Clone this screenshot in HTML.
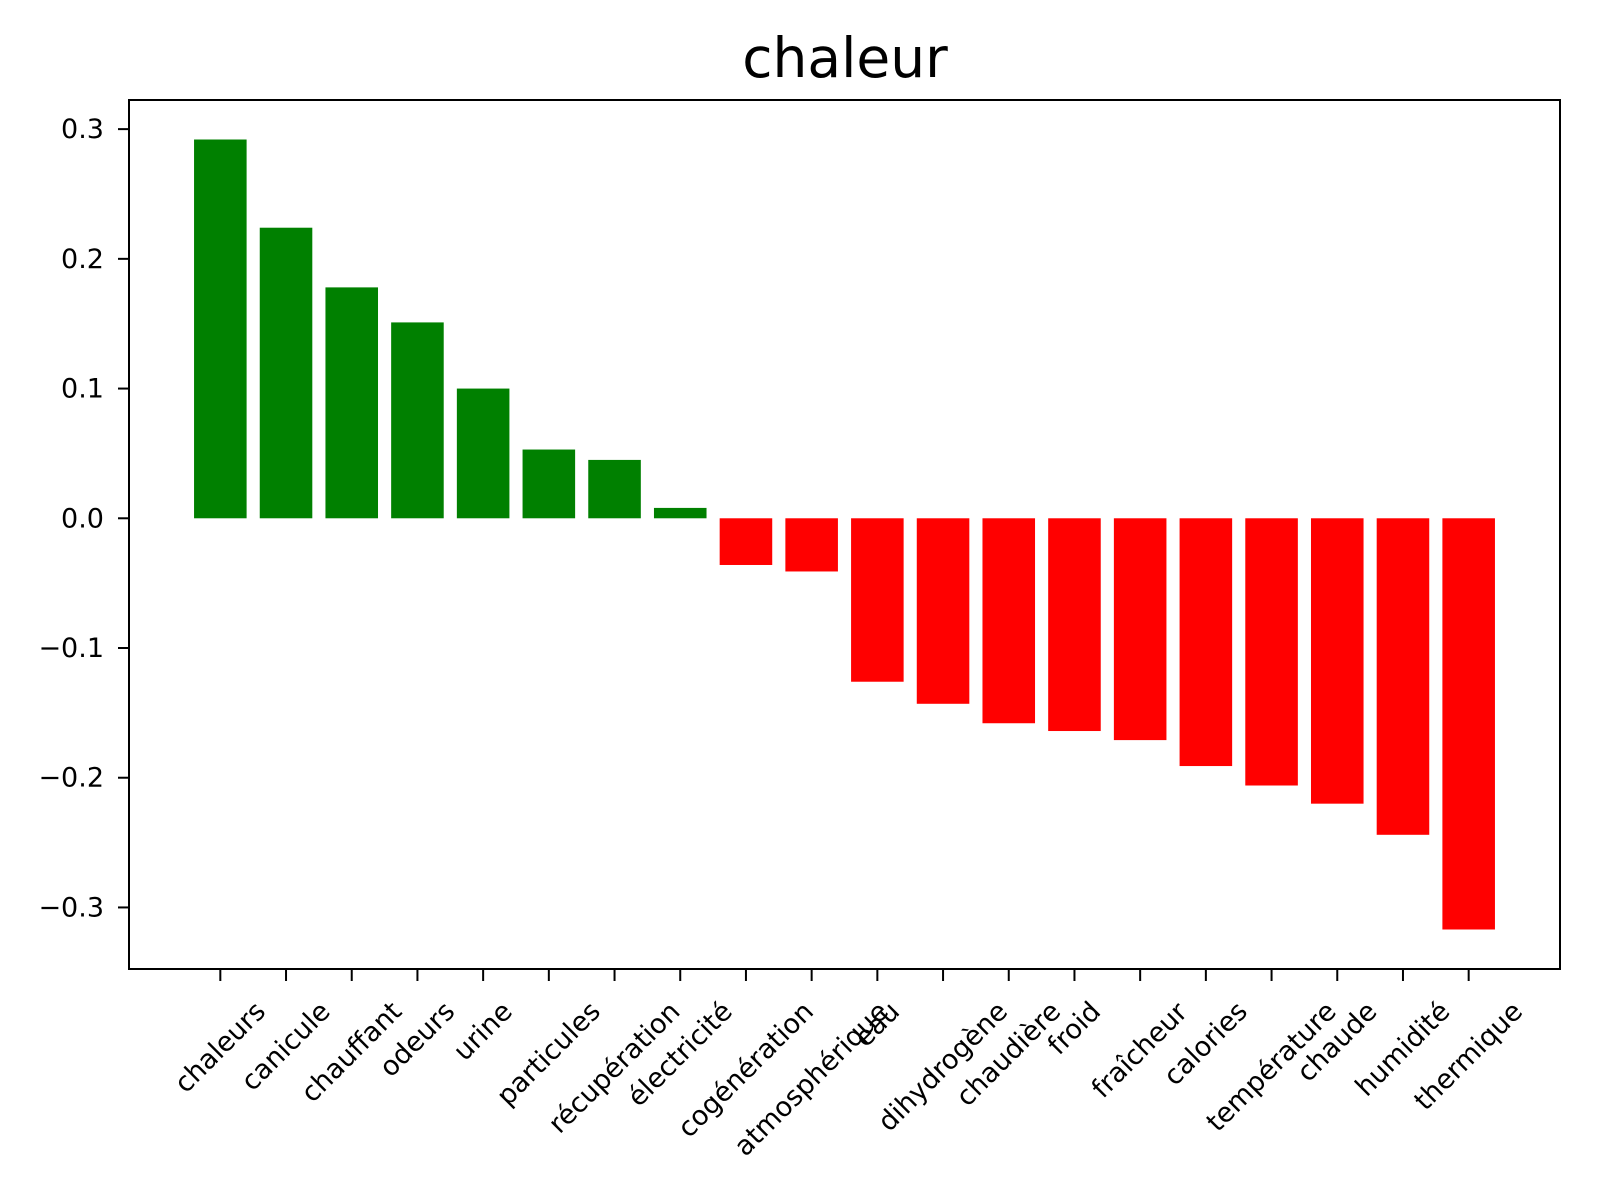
<!DOCTYPE html>
<html><head><meta charset="utf-8"><style>
html,body{margin:0;padding:0;background:#fff;}
svg{display:block;font-family:"DejaVu Sans","Liberation Sans",sans-serif;}
</style></head><body>
<svg id="chart" width="1600" height="1200" viewBox="0 0 1600 1200" xmlns="http://www.w3.org/2000/svg">
<rect width="1600" height="1200" fill="#fff"/>
<text x="845" y="77" font-size="55" text-anchor="middle">chaleur</text>
<g id="bars"></g>
<g id="yaxis"></g>
<g id="xaxis"></g>
<rect x="129" y="100" width="1431" height="869" fill="none" stroke="#000" stroke-width="2"/>
</svg>
<script>
const categories = ["chaleurs","canicule","chauffant","odeurs","urine","particules","récupération","électricité","cogénération","atmosphérique","eau","dihydrogène","chaudière","froid","fraîcheur","calories","température","chaude","humidité","thermique"];
const values = [0.292,0.224,0.178,0.151,0.100,0.053,0.045,0.008,-0.036,-0.041,-0.126,-0.143,-0.158,-0.164,-0.171,-0.191,-0.206,-0.220,-0.244,-0.317];
const yTicks = [-0.3,-0.2,-0.1,0.0,0.1,0.2,0.3];
const yTickLabels = ["\u22120.3","\u22120.2","\u22120.1","0.0","0.1","0.2","0.3"];

const NS = "http://www.w3.org/2000/svg";
const L = 129, R = 1560, T = 100, B = 969;
const n = categories.length;
const xMin = -0.4 - 0.05*(n-0.2), xMax = (n-1)+0.4 + 0.05*(n-0.2);
const vmax = Math.max(...values, 0), vmin = Math.min(...values, 0);
const pad = 0.05*(vmax - vmin);
const yMin = vmin - pad, yMax = vmax + pad;
const x = i => L + (i - xMin)/(xMax - xMin)*(R - L);
const y = v => B - (v - yMin)/(yMax - yMin)*(B - T);
const bw = 0.8*(R - L)/(xMax - xMin);

const bars = document.getElementById('bars');
values.forEach((v,i) => {
  const r = document.createElementNS(NS,'rect');
  
  
  r.setAttribute('x', x(i) - bw/2);
  r.setAttribute('width', bw);
  r.setAttribute('y', Math.min(y(v), y(0)));
  r.setAttribute('height', Math.abs(y(v) - y(0)));
  r.setAttribute('fill', v >= 0 ? '#008000' : '#ff0000');
  bars.appendChild(r);
});

const ya = document.getElementById('yaxis');
yTicks.forEach((t,k) => {
  const ln = document.createElementNS(NS,'line');
  
  
  ln.setAttribute('x1', L - 11); ln.setAttribute('x2', L);
  ln.setAttribute('y1', y(t)); ln.setAttribute('y2', y(t));
  ln.setAttribute('stroke', '#000'); ln.setAttribute('stroke-width', '2');
  ya.appendChild(ln);
  const tx = document.createElementNS(NS,'text');
  
  
  tx.setAttribute('x', L - 25); tx.setAttribute('y', y(t) + 9);
  tx.setAttribute('font-size', '27'); tx.setAttribute('text-anchor', 'end');
  tx.textContent = yTickLabels[k];
  ya.appendChild(tx);
});

const xa = document.getElementById('xaxis');
const svg = document.getElementById('chart');
const svgRect = svg.getBoundingClientRect();
categories.forEach((c,i) => {
  const ln = document.createElementNS(NS,'line');
  
  
  ln.setAttribute('x1', x(i)); ln.setAttribute('x2', x(i));
  ln.setAttribute('y1', B); ln.setAttribute('y2', B + 12);
  ln.setAttribute('stroke', '#000'); ln.setAttribute('stroke-width', '2');
  xa.appendChild(ln);
  const g = document.createElementNS(NS,'g');
  const tx = document.createElementNS(NS,'text');
  
  
  tx.setAttribute('font-size', '27');
  tx.setAttribute('text-anchor', 'end');
  tx.setAttribute('transform', 'rotate(-45)');
  tx.textContent = c;
  g.appendChild(tx);
  xa.appendChild(g);
  const bb = g.getBoundingClientRect();
  const cx = (bb.left + bb.right)/2 - svgRect.left;
  const top = bb.top - svgRect.top;
  g.setAttribute('transform', 'translate(' + (x(i) - cx) + ',' + (996 - top) + ')');
});
</script>
</body></html>
